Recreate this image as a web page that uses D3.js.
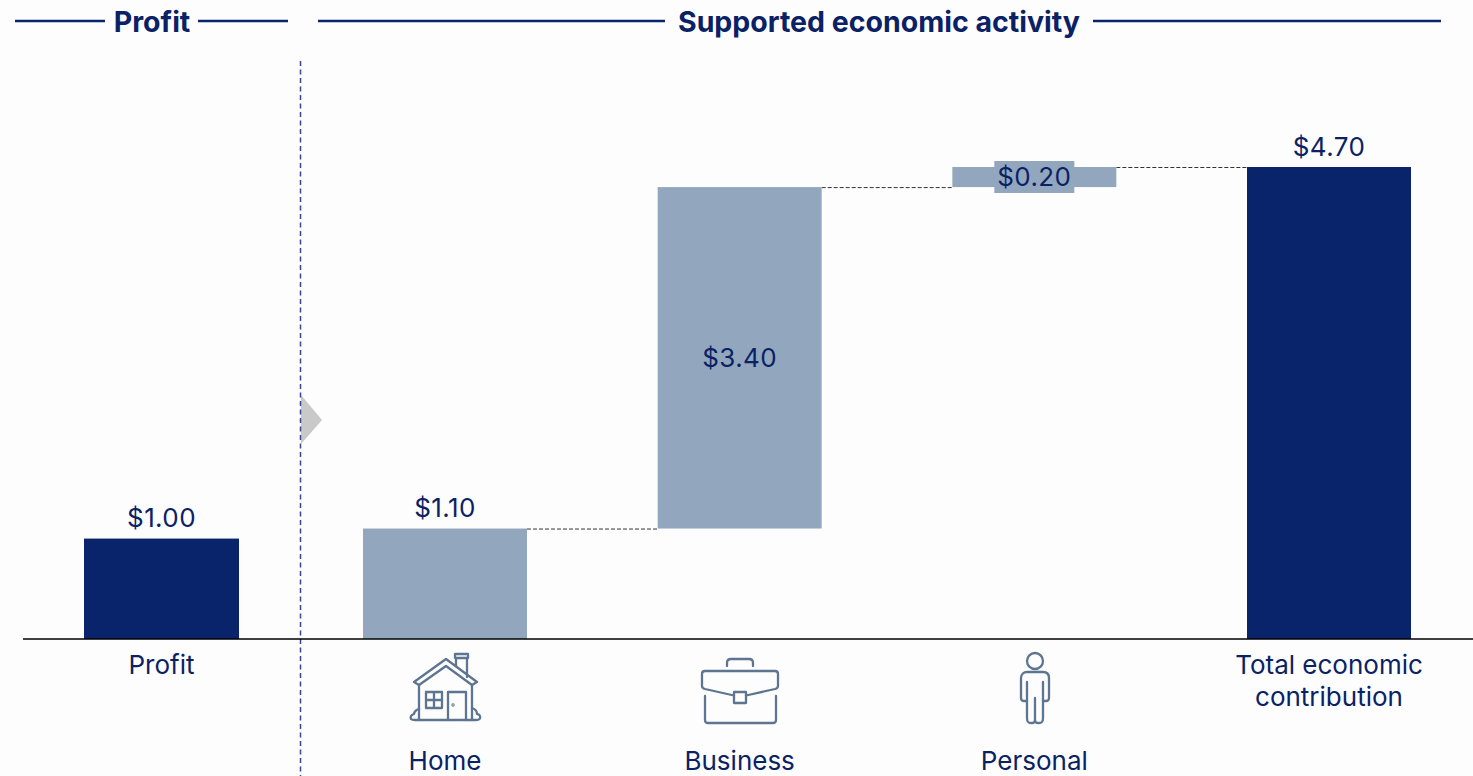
<!DOCTYPE html>
<html><head><meta charset="utf-8">
<script src="https://cdn.jsdelivr.net/npm/d3@7/dist/d3.min.js"></script>
<style>html,body{margin:0;padding:0;background:#fdfdfd}svg{display:block}text{font-family:Inter,Roboto,"Open Sans",sans-serif;fill:#0a2265}</style>
</head><body><svg id="c" width="1473" height="776"></svg>
<script>
const profitCategory = ["Profit"];
const profitValues = [1.00];
const activityCategories = ["Home","Business","Personal","Total economic contribution"];
const activityStarts = [0,1.10,4.50,0];
const activityEnds = [1.10,4.50,4.70,4.70];
const activityLabels = ["$1.10","$3.40","$0.20","$4.70"];
const profitLabels = ["$1.00"];
const navy="#0a246c", steel="#92a7be", iconC="#5d7590";
const svg=d3.select("#c");
const y=d3.scaleLinear().domain([0,4.7]).range([639,167]);
const xP=d3.scaleBand().domain(profitCategory).range([84,239]);
const xA=d3.scaleBand().domain(activityCategories).range([363,1411]).paddingInner(0.4435).paddingOuter(0);
const FS=26;
function hdr(x1,x2,cx,t,gapL,gapR){
  svg.append("line").attr("x1",x1).attr("x2",gapL).attr("y1",21).attr("y2",21).attr("stroke",navy).attr("stroke-width",2.6);
  svg.append("line").attr("x1",gapR).attr("x2",x2).attr("y1",21).attr("y2",21).attr("stroke",navy).attr("stroke-width",2.6);
  svg.append("text").attr("x",cx).attr("y",32).attr("text-anchor","middle").attr("font-size",28.5).attr("font-weight",700).text(t);
}
hdr(15,288,152,"Profit",105,198);
hdr(318,1441,879,"Supported economic activity",665,1093);
svg.append("path").attr("d","M301 395L322 420L301 444Z").attr("fill","#c9c9c9");
svg.append("line").attr("x1",300.5).attr("x2",300.5).attr("y1",61).attr("y2",776).attr("stroke","#34488f").attr("stroke-width",1.5).attr("stroke-dasharray","5 3.5");
activityCategories.slice(0,3).forEach((c,i)=>{
  svg.append("line").attr("x1",xA(c)+xA.bandwidth()).attr("x2",xA(activityCategories[i+1]))
    .attr("y1",y(activityEnds[i])+.5).attr("y2",y(activityEnds[i])+.5)
    .attr("stroke","#333").attr("stroke-width",1).attr("stroke-dasharray","4 2");
});
svg.selectAll(".p").data(profitValues).join("rect").attr("x",(d,i)=>xP(profitCategory[i])).attr("width",xP.bandwidth())
  .attr("y",d=>y(d)).attr("height",d=>y(0)-y(d)).attr("fill",navy);
svg.selectAll(".a").data(activityCategories).join("rect").attr("x",d=>xA(d)).attr("width",xA.bandwidth())
  .attr("y",(d,i)=>y(activityEnds[i])).attr("height",(d,i)=>y(activityStarts[i])-y(activityEnds[i]))
  .attr("fill",(d,i)=>i==3?navy:steel);
svg.append("line").attr("x1",23).attr("x2",1473).attr("y1",639).attr("y2",639).attr("stroke","#000").attr("stroke-width",1.6);
const cx=c=>xA(c)+xA.bandwidth()/2;
function val(x,yy,t,ls){svg.append("text").attr("x",x).attr("y",yy).attr("text-anchor","middle").attr("font-size",FS).attr("letter-spacing",ls||0).text(t);}
const LS=0.4;
val(xP("Profit")+xP.bandwidth()/2,y(1)-12,profitLabels[0],LS);
val(cx("Home"),y(1.1)-12,activityLabels[0],LS);
val(cx("Business"),(y(1.1)+y(4.5))/2+9,activityLabels[1],LS);
svg.append("rect").attr("x",cx("Personal")-40).attr("width",80).attr("y",161).attr("height",32).attr("fill",steel);
val(cx("Personal"),186,activityLabels[2],LS);
val(cx(activityCategories[3]),y(4.7)-11,activityLabels[3],LS);
val(xP("Profit")+xP.bandwidth()/2,674,"Profit");
val(cx("Home"),770,"Home");
val(cx("Business"),770,"Business");
val(cx("Personal"),770,"Personal");
val(cx(activityCategories[3]),674,"Total economic");
val(cx(activityCategories[3]),706,"contribution");
const ic=(tx,ty)=>svg.append("g").attr("transform",`translate(${tx},${ty})`).attr("fill","none").attr("stroke",iconC).attr("stroke-width",2.3).attr("stroke-linejoin","round").attr("stroke-linecap","round");
const h=ic(390,640);
h.append("path").attr("d","M24 42L56 19L87 42L82 45L56 26L29 45Z");
h.append("path").attr("d","M66 26V18H77V37M65 14H78V18H65Z");
h.append("path").attr("d","M29 45V80M82 45V80");
h.append("path").attr("d","M36 52H52V68H36ZM44 52V68M36 60H52");
h.append("path").attr("d","M58 80V52H76V80");
h.append("path").attr("d","M29 69C25 70 24 73 24 74C21 75 20 77 21 79C22 80 23 80 25 80H86C89 80 91 79 90 76C89 74 87 74 87 74C87 71 85 69 82 68");
h.append("circle").attr("cx",63).attr("cy",65).attr("r",.5);
const b=ic(690,640);
b.append("path").attr("d","M37 26V23C37 20 38 19 41 19H59C62 19 63 20 63 23V26");
b.append("path").attr("d","M44 55.500L15 49C13 48.500 12 48 12 46V34C12 32 13 31 15 31H85C87 31 88 32 88 34V46C88 48 87 48.500 85 49L56 55.500");
b.append("path").attr("d","M44 52H56V63H44Z");
b.append("path").attr("d","M15 56V80C15 82 16 83 18 83H83C85 83 86 82 86 80V56");
const pr=ic(980,640);
pr.append("circle").attr("cx",55).attr("cy",21).attr("r",8);
pr.append("path").attr("d","M47 42V78C47 82 48 83 51 83H52C54 83 55 82 55 80V58V80C55 82 56 83 58 83H59C62 83 63 82 63 78V42");
pr.append("path").attr("d","M47 61H44C42 61 41 60 41 58V38C41 34 44 32 47 32H63C67 32 69 34 69 38V58C69 60 68 61 66 61H63");
</script></body></html>
